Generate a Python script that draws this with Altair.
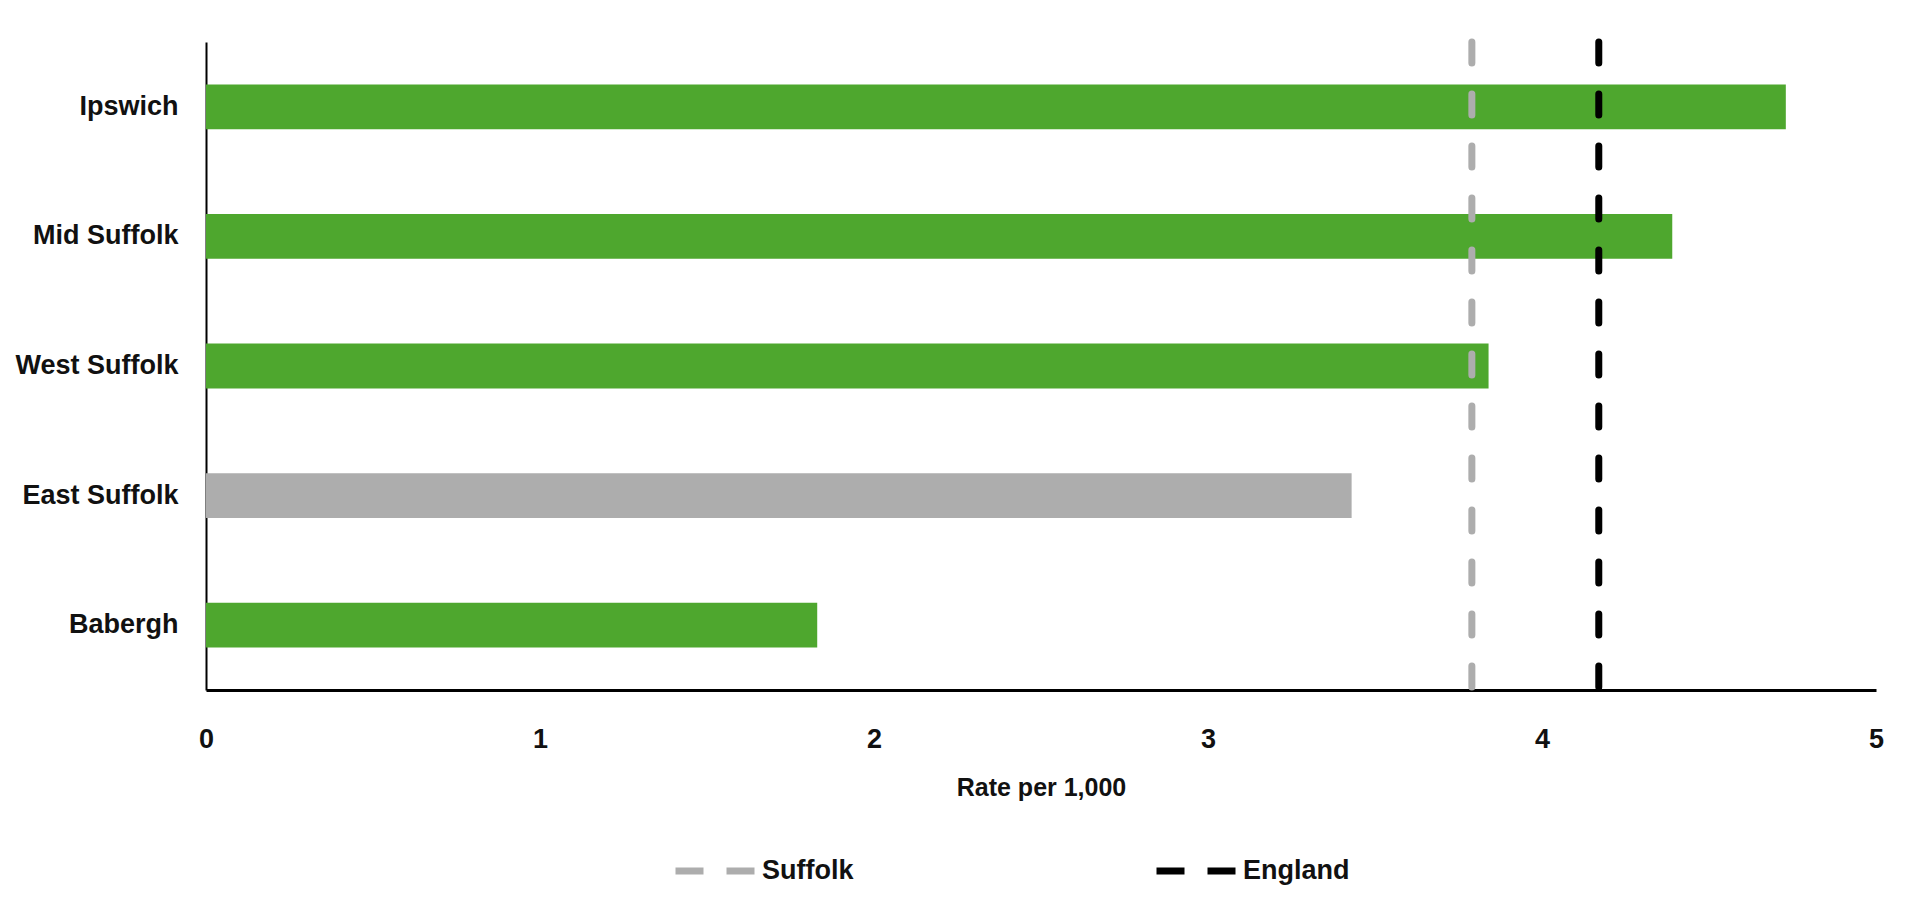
import altair as alt
import pandas as pd

areas = ["Ipswich", "Mid Suffolk", "West Suffolk", "East Suffolk", "Babergh"]
rates = [4.73, 4.39, 3.84, 3.43, 1.83]

ref_names = ["Suffolk", "England"]
ref_values = [3.79, 4.17]

x_ticks = [0, 1, 2, 3, 4, 5]

bars_df = pd.DataFrame({"area": areas, "rate": rates})
refs_df = pd.DataFrame({"name": ref_names, "value": ref_values})

FONT = "Liberation Sans"
GREEN = "#4ea72e"
GREY = "#adadad"

y_enc = alt.Y(
    "area:N",
    sort=areas,
    scale=alt.Scale(paddingInner=0.654, paddingOuter=0.327),
    axis=alt.Axis(
        title=None,
        ticks=False,
        labelFont=FONT,
        labelFontSize=27,
        labelFontWeight="bold",
        labelColor="#111111",
        labelPadding=28,
        domainColor="black",
        domainWidth=2,
        labelLimit=400,
    ),
)

x_scale = alt.Scale(domain=[0, 5], nice=False)
x_axis = alt.Axis(
    title="Rate per 1,000",
    values=x_ticks,
    format="d",
    ticks=False,
    grid=False,
    labelFont=FONT,
    labelFontSize=27,
    labelFontWeight="bold",
    labelColor="#111111",
    labelPadding=36,
    labelFlush=False,
    domainColor="black",
    domainWidth=3,
    titleFont=FONT,
    titleFontSize=25,
    titleFontWeight="bold",
    titleColor="#111111",
    titlePadding=23,
)

bars = alt.Chart(bars_df).mark_bar().encode(
    y=y_enc,
    x=alt.X("rate:Q", scale=x_scale, axis=x_axis),
    color=alt.condition(
        alt.datum.area == "East Suffolk", alt.value(GREY), alt.value(GREEN)
    ),
)

rules = alt.Chart(refs_df).mark_rule(
    strokeWidth=7, strokeDash=[21, 31], strokeCap="round"
).encode(
    x=alt.X("value:Q", scale=x_scale),
    color=alt.Color(
        "name:N",
        scale=alt.Scale(domain=ref_names, range=[GREY, "black"]),
        legend=alt.Legend(
            title=None,
            orient="none",
            legendX=466,
            legendY=786,
            direction="horizontal",
            columns=2,
            columnPadding=288,
            symbolType="stroke",
            symbolSize=6241,
            symbolStrokeWidth=7,
            symbolDash=[28, 23],
            labelFont=FONT,
            labelFontSize=27,
            labelFontWeight="bold",
            labelColor="#111111",
            labelOffset=4,
            labelLimit=300,
        ),
    ),
)

chart = (
    alt.layer(bars, rules)
    .properties(
        width=1670,
        height=648,
        padding={"left": 6, "top": 30, "right": 30, "bottom": 10},
        background="white",
    )
    .configure_view(stroke=None)
)

chart.save("out.html", embed_options={"renderer": "svg", "actions": False})
